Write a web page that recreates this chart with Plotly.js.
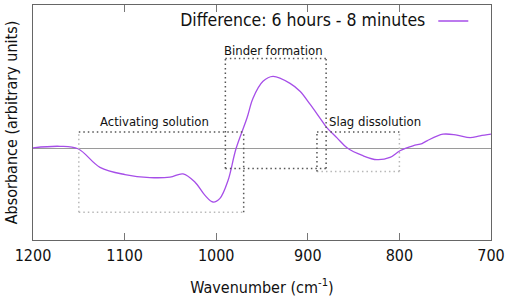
<!DOCTYPE html>
<html>
<head>
<meta charset="utf-8">
<script src="https://cdn.plot.ly/plotly-3.0.1.min.js"></script>
<style>html,body{margin:0;padding:0;background:#fff;}#chart{width:510px;height:304px;}</style>
</head>
<body>
<div id="chart"></div>
<script>
// Difference spectrum (arbitrary units)
const wavenumber = [1200, 1170.5, 1150.9, 1126.9, 1099.6, 1072.3, 1050.4, 1036.2, 1023.1, 1012.2, 1003.5, 995.9, 987.1, 978.4, 966.4, 959.8, 948.9, 938, 919.4, 908.5, 897.6, 886.7, 879, 868.1, 857.2, 839.8, 824.5, 810.3, 799.4, 785.2, 775.3, 769.9, 752.4, 737.2, 722.9, 712, 700];
const absorbance = [1, 2.5, 0, -18.7, -26, -29, -28.5, -25.3, -33.7, -47, -53.7, -50, -32, 0, 31, 51, 68, 73, 66, 58, 45, 31, 21, 11, 1, -7, -11, -8.7, -2, 3, 5.3, 8, 14.7, 13.7, 11.3, 13, 14.7];
const seriesName = 'Difference: 6 hours - 8 minutes';

// Highlighted regions
const regionNames = ['Activating solution', 'Binder formation', 'Slag dissolution'];
const regionX0 = [1150, 990, 890];
const regionX1 = [970, 880, 800];
const regionY0 = [-64, -20, -23];
const regionY1 = [17, 91, 17];
const labelX = [1067, 937, 827];
const labelY = [28, 99, 28];
// edge shading: [top, right, bottom, left] dark(1)/light(0)
const regionEdgeDark = [[1,1,0,0],[1,1,1,1],[1,0,0,1]];

const xTicks = [1200, 1100, 1000, 900, 800, 700];

const FONT = 'DejaVu Sans Condensed, DejaVu Sans, sans-serif';
const dark = '#555555', light = '#b8b8b8';
const PURPLE = '#a64ee8';

const shapes = [];
const annotations = [];
regionNames.forEach((name, i) => {
  const x0 = regionX0[i], x1 = regionX1[i], y0 = regionY0[i], y1 = regionY1[i];
  const edges = [
    [x0, y1, x1, y1], // top
    [x1, y0, x1, y1], // right
    [x0, y0, x1, y0], // bottom
    [x0, y0, x0, y1]  // left
  ];
  edges.forEach((e, k) => {
    shapes.push({type: 'line', xref: 'x', yref: 'y', x0: e[0], y0: e[1], x1: e[2], y1: e[3],
      line: {color: regionEdgeDark[i][k] ? dark : light, width: 1.5, dash: '1.5px,3px'}, layer: 'above'});
  });
  annotations.push({x: labelX[i], y: labelY[i], xref: 'x', yref: 'y', text: name, showarrow: false,
    yanchor: 'middle', font: {family: FONT, size: 13, color: '#111'}});
});

const trace = {
  x: wavenumber, y: absorbance, type: 'scatter', mode: 'lines', name: ' ',
  line: {color: PURPLE, width: 1.3, shape: 'spline', smoothing: 1}
};

const layout = {
  width: 510, height: 304,
  margin: {l: 33, r: 19, t: 3, b: 64},
  paper_bgcolor: '#fff', plot_bgcolor: '#fff',
  font: {family: FONT, color: '#111'},
  showlegend: true,
  legend: {
    title: {text: seriesName, side: 'left', font: {family: FONT, size: 17.5, color: '#111'}},
    x: 0.985, xanchor: 'right', y: 0.93, yanchor: 'middle',
    bgcolor: 'rgba(0,0,0,0)', font: {family: FONT, size: 17}, itemwidth: 30
  },
  xaxis: {
    range: [1200, 700], tickmode: 'array', tickvals: xTicks, ticktext: xTicks.map(String),
    ticks: 'inside', ticklen: 7, tickcolor: '#777', tickwidth: 1,
    showline: true, linecolor: '#666', linewidth: 1, mirror: 'ticks',
    showgrid: false, zeroline: false,
    tickfont: {family: FONT, size: 16, color: '#111'}, ticklabelstandoff: 1,
    title: {text: 'Wavenumber (cm<sup>-1</sup>)', font: {family: FONT, size: 16, color: '#111'}, standoff: 17}
  },
  yaxis: {
    range: [-92, 145], showticklabels: false, ticks: '',
    showline: true, linecolor: '#666', linewidth: 1, mirror: true,
    showgrid: false, zeroline: true, zerolinecolor: '#9a9a9a', zerolinewidth: 1,
    title: {text: 'Absorbance (arbitrary units)', font: {family: FONT, size: 16, color: '#111'}, standoff: 10}
  },
  shapes: shapes,
  annotations: annotations
};

Plotly.newPlot('chart', [trace], layout, {displayModeBar: false, staticPlot: true});
</script>
</body>
</html>
